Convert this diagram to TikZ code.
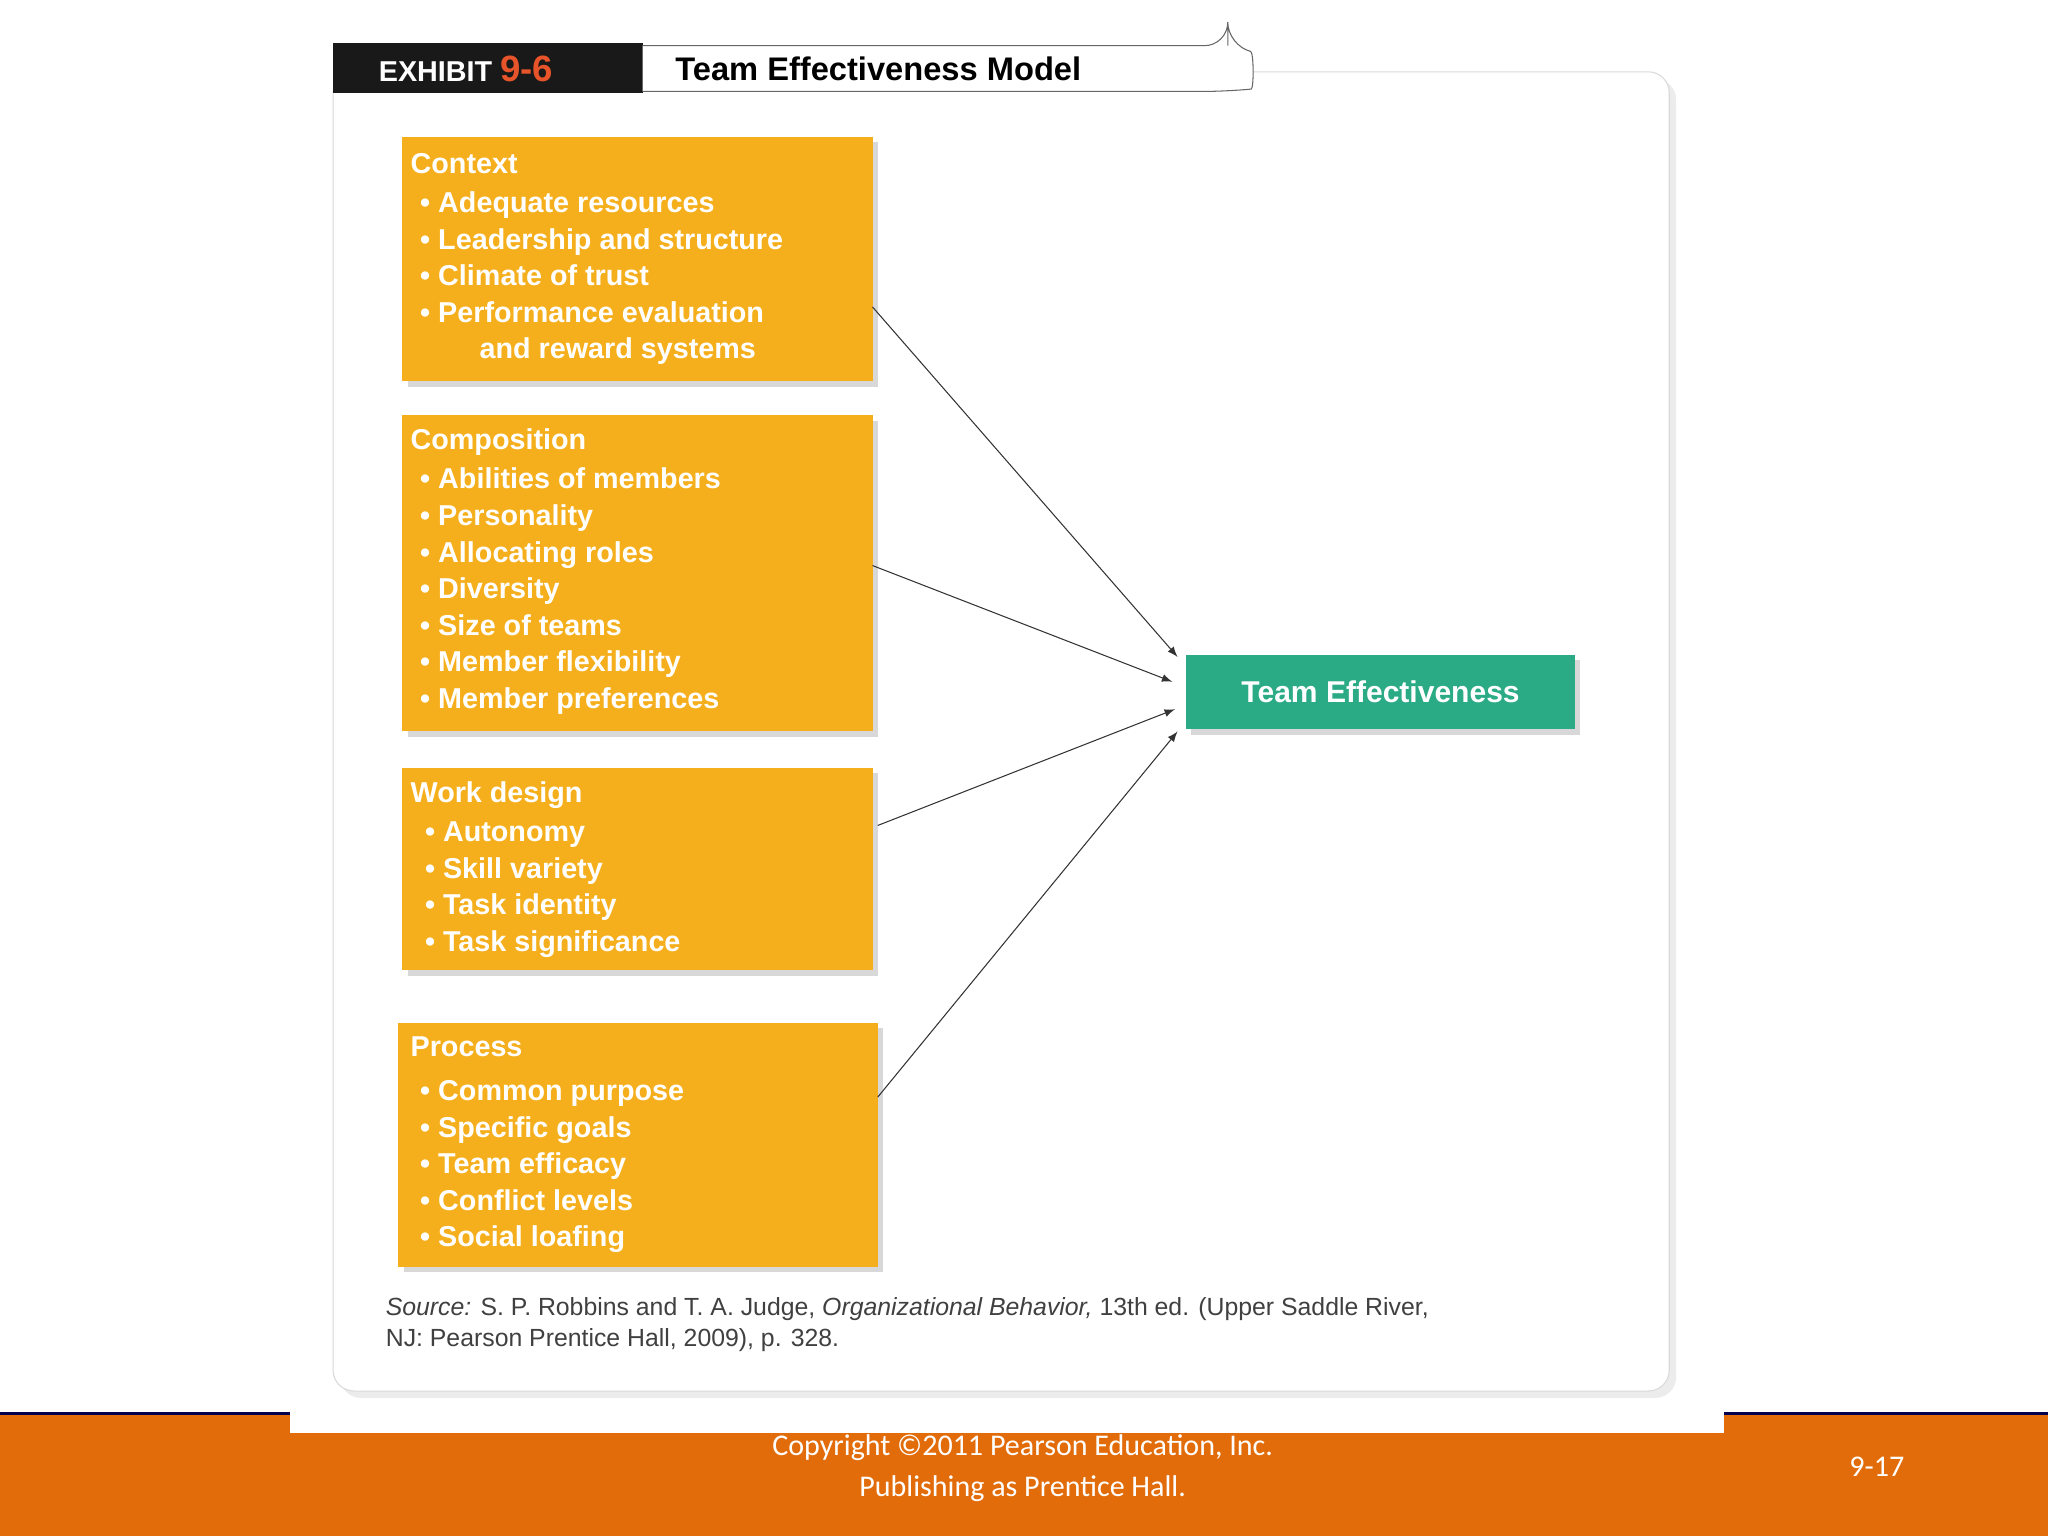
\documentclass[tikz,border=0pt]{standalone}
\usepackage{fontspec}
\setmainfont{Liberation Sans}
\newfontfamily\carl{Carlito}
\usetikzlibrary{calc,shadows}
\definecolor{boxor}{HTML}{F6AF1C}
\definecolor{baror}{HTML}{E36C0A}
\definecolor{teal2}{HTML}{2BAA86}
\definecolor{hdr}{HTML}{E8542A}
\tikzset{
 obox/.style={fill=boxor,draw=none,drop shadow={opacity=0.3,shadow xshift=2pt,shadow yshift=-2pt}},
 otext/.style={anchor=north west,text=white,font=\bfseries\fontsize{11}{14}\selectfont,align=left,inner sep=0pt},
 arr/.style={-latex,thin,black!80}
}
\begin{document}
\begin{tikzpicture}[x=0.5pt,y=-0.5pt]
\useasboundingbox (0,0) rectangle (1568,1176);
\fill[white] (0,0) rectangle (1568,1176);
% bottom bar
\fill[baror] (0,1082) rectangle (1568,1176);
\draw[blue!30!black,line width=1pt] (0,1082) -- (1568,1082);
\fill[white] (222,1070) rectangle (1320,1097);
\node[text=white,font=\carl\fontsize{11.5}{15.5}\selectfont,align=center] (copy) at (783,1124) {Copyright ©2011 Pearson Education, Inc.\\Publishing as Prentice Hall.};
\node[text=white,font=\carl\fontsize{11.5}{14}\selectfont] (pg) at (1437,1123) {9-17};
% card
\draw[black!15,fill=white,rounded corners=8pt,drop shadow={opacity=0.15}] (255,55) rectangle (1278,1065);
\fill[black!90] (255,33) rectangle (492,71);
\node[font=\bfseries\fontsize{11}{13}\selectfont,anchor=west] (ex) at (283,53) {\textcolor{white}{EXHIBIT} \textcolor{hdr}{\fontsize{14}{16}\selectfont 9-6}};
\draw[black!60,fill=white,rounded corners=9pt] (492,35) -- (940,35) arc(-90:90:0) -- (940,35) .. controls (960,40) and (960,68) .. (940,70) -- (492,70);
\node[font=\bfseries\fontsize{12.5}{14}\selectfont,anchor=west] (title) at (510,53) {Team Effectiveness Model};
% boxes
\fill[obox] (308,105) rectangle (668,292); \coordinate (ctx) at (668,235);
\node[otext] (t1) at (314,117) {Context\\[1pt]\,\,• Adequate resources\\\,\,• Leadership and structure\\\,\,• Climate of trust\\\,\,• Performance evaluation\\\hspace{2.4em}and reward systems};
\fill[obox] (308,318) rectangle (668,560); \coordinate (cmp) at (668,433);
\node[otext] (t2) at (314,328) {Composition\\[1pt]\,\,• Abilities of members\\\,\,• Personality\\\,\,• Allocating roles\\\,\,• Diversity\\\,\,• Size of teams\\\,\,• Member flexibility\\\,\,• Member preferences};
\fill[obox] (308,588) rectangle (668,743); \coordinate (wd) at (672,632);
\node[otext] (t3) at (314,598) {Work design\\[1pt]\,\,\,• Autonomy\\\,\,\,• Skill variety\\\,\,\,• Task identity\\\,\,\,• Task significance};
\fill[obox] (305,783) rectangle (672,970); \coordinate (pr) at (672,840);
\node[otext] (t4) at (314,793) {Process\\[3pt]\,\,• Common purpose\\\,\,• Specific goals\\\,\,• Team efficacy\\\,\,• Conflict levels\\\,\,• Social loafing};
% target
\node[fill=teal2,text=white,font=\bfseries\fontsize{11.5}{14}\selectfont,minimum width=149pt,minimum height=28.5pt,drop shadow={opacity=0.3,shadow xshift=2pt,shadow yshift=-2pt}] (te) at (1057,530) {Team Effectiveness};
\draw[arr] (ctx) -- ($(te.west)+(-6,-27)$);
\draw[arr] (cmp) -- ($(te.west)+(-10,-8)$);
\draw[arr] (wd) -- ($(te.west)+(-8,13)$);
\draw[arr] (pr) -- ($(te.west)+(-6,30)$);
\node[anchor=north west,font=\fontsize{9.5}{12}\selectfont,text=black!75,align=left,inner sep=0pt] (src) at (295,993) {\textit{Source:} S. P. Robbins and T. A. Judge, \textit{Organizational Behavior,} 13th ed. (Upper Saddle River,\\NJ: Pearson Prentice Hall, 2009), p. 328.};
\end{tikzpicture}
\end{document}
